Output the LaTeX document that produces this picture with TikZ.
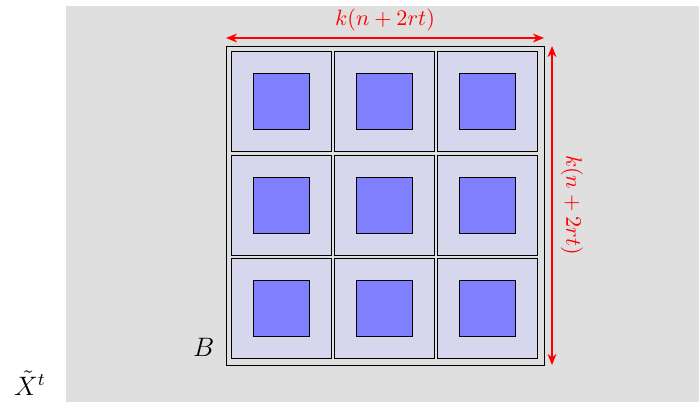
\documentclass[tikz,border=0pt]{standalone}
\usetikzlibrary{arrows.meta}
\definecolor{bggray}{RGB}{223,223,223}
\definecolor{cellfill}{RGB}{214,214,236}
\definecolor{innerblue}{RGB}{128,128,255}
\begin{document}
\begin{tikzpicture}[x=0.45pt,y=-0.45pt,
  cellbox/.style={draw=black,line width=0.4pt,fill=cellfill,minimum width=100*0.45pt,minimum height=100*0.45pt,inner sep=0pt,outer sep=0pt},
  innerbox/.style={draw=black,line width=0.4pt,fill=innerblue,minimum width=56*0.45pt,minimum height=56*0.45pt,inner sep=0pt},
  outerbox/.style={draw=black,line width=0.4pt,minimum width=318*0.45pt,minimum height=319*0.45pt,inner sep=0pt,outer sep=0pt},
  dimarrow/.style={red,line width=0.5pt,{Stealth[length=5pt,width=4pt]}-{Stealth[length=5pt,width=4pt]}},
  dimlabel/.style={red,inner sep=1pt}]
\useasboundingbox (0,0) rectangle (699,402);
\fill[bggray] (66,6) rectangle (699,402);
\node[outerbox] (B) at (385,205.5) {};
\foreach \c/\x in {1/281,2/384.5,3/487.5}{
  \foreach \r/\y in {1/101.5,2/205,3/308.5}{
    \node[cellbox] (cell\c\r) at (\x,\y) {};
    \node[innerbox] (in\c\r) at (\x,\y) {};
  }
}
\coordinate (hl) at (226,38);
\coordinate (hr) at (544,38);
\coordinate (vt) at (552,46);
\coordinate (vb) at (552,365);
\draw[dimarrow] (hl) -- (hr);
\draw[dimarrow] (vt) -- (vb);
\node[dimlabel] (toplabel) at (385,20) {$k(n+2rt)$};
\node[dimlabel,rotate=-90] (sidelabel) at (572,205) {$k(n+2rt)$};
\node[anchor=east,inner sep=1pt] (Blabel) at (217,347) {\large $B$};
\node (Xlabel) at (30,383) {\large $\tilde{X}^t$};
\end{tikzpicture}
\end{document}
